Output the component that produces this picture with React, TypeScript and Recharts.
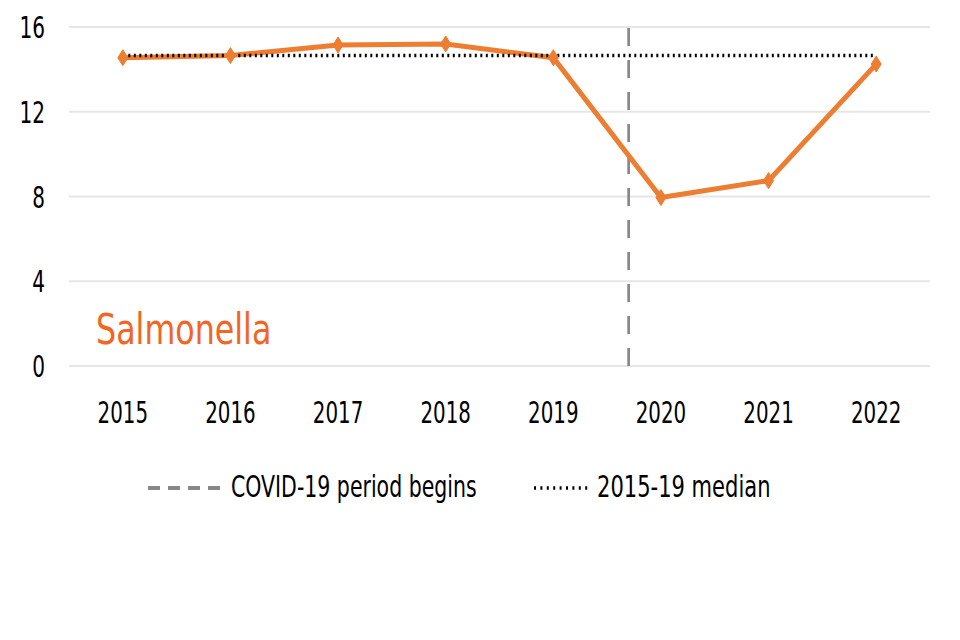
import React from "react";
import { LineChart, Line, XAxis, YAxis, CartesianGrid, ReferenceLine } from "recharts";

const years = [2015, 2016, 2017, 2018, 2019, 2020, 2021, 2022];
const salmonella = [14.55, 14.65, 15.15, 15.2, 14.55, 7.95, 8.75, 14.25];
const median2015to19 = 14.65;
const covidStart = 2019.7;
const yTicks = [0, 4, 8, 12, 16];
const legendLabels = ["COVID-19 period begins", "2015-19 median"];
const title = "Salmonella";

const data = years.map((y, i) => ({ year: y, value: salmonella[i], median: median2015to19 }));

const FONT = "'DejaVu Sans Condensed', 'DejaVu Sans', sans-serif";
const ORANGE = "#ED7D31";

const SText = (props: any) => {
  const { x, y, sx, size, anchor, fill, children } = props;
  return (
    <g transform={`translate(${x},${y}) scale(${sx},1)`}>
      <text x={0} y={0} textAnchor={anchor} fill={fill || "#000"} fontSize={size} fontFamily={FONT}>
        {children}
      </text>
    </g>
  );
};

const XTick = (props: any) => {
  const { x, y, payload } = props;
  return <SText x={x} y={y + 57} sx={0.735} size={30} anchor="middle">{payload.value}</SText>;
};

const YTick = (props: any) => {
  const { x, y, payload } = props;
  return <SText x={x} y={y + 11} sx={0.72} size={31} anchor="end">{payload.value}</SText>;
};

const Diamond = (props: any) => {
  const { cx, cy } = props;
  if (cx == null || cy == null) return null;
  const w = 5, h = 8;
  return <path d={`M${cx},${cy - h}L${cx + w},${cy}L${cx},${cy + h}L${cx - w},${cy}Z`} fill={ORANGE} stroke={ORANGE} strokeWidth={1} />;
};

export default function App() {
  return (
    <div style={{ position: "absolute", left: 0, top: 0, width: 960, height: 640, background: "#fff" }}>
      <LineChart width={960} height={640} data={data} margin={{ top: 27, right: 30, bottom: 244, left: 0 }}>
        <CartesianGrid vertical={false} stroke="#e6e6e6" strokeWidth={2} />
        <XAxis
          dataKey="year"
          type="number"
          domain={[2014.5, 2022.5]}
          ticks={years}
          axisLine={false}
          tickLine={false}
          tickSize={0}
          tickMargin={0}
          height={30}
          tick={<XTick />}
        />
        <YAxis
          domain={[0, 16]}
          ticks={yTicks}
          width={69}
          axisLine={false}
          tickLine={false}
          tickSize={0}
          tickMargin={24}
          tick={<YTick />}
        />
        <ReferenceLine x={covidStart} stroke="#888888" strokeWidth={2.7} strokeDasharray="18 14" />
        <Line dataKey="value" stroke={ORANGE} strokeWidth={5} dot={<Diamond />} isAnimationActive={false} />
        <Line dataKey="median" stroke="#000" strokeWidth={3.5} strokeDasharray="2 3.5" dot={false} isAnimationActive={false} />
        <SText x={96} y={344} sx={0.82} size={43} anchor="start" fill="#F26522">{title}</SText>
        <g>
          <line x1={148} y1={488} x2={226} y2={488} stroke="#888888" strokeWidth={4} strokeDasharray="12 8" />
          <SText x={231} y={497} sx={0.76} size={30} anchor="start">{legendLabels[0]}</SText>
          <line x1={534} y1={488} x2={590} y2={488} stroke="#000" strokeWidth={3.5} strokeDasharray="2 4.4" />
          <SText x={597} y={497} sx={0.78} size={30} anchor="start">{legendLabels[1]}</SText>
        </g>
      </LineChart>
    </div>
  );
}
